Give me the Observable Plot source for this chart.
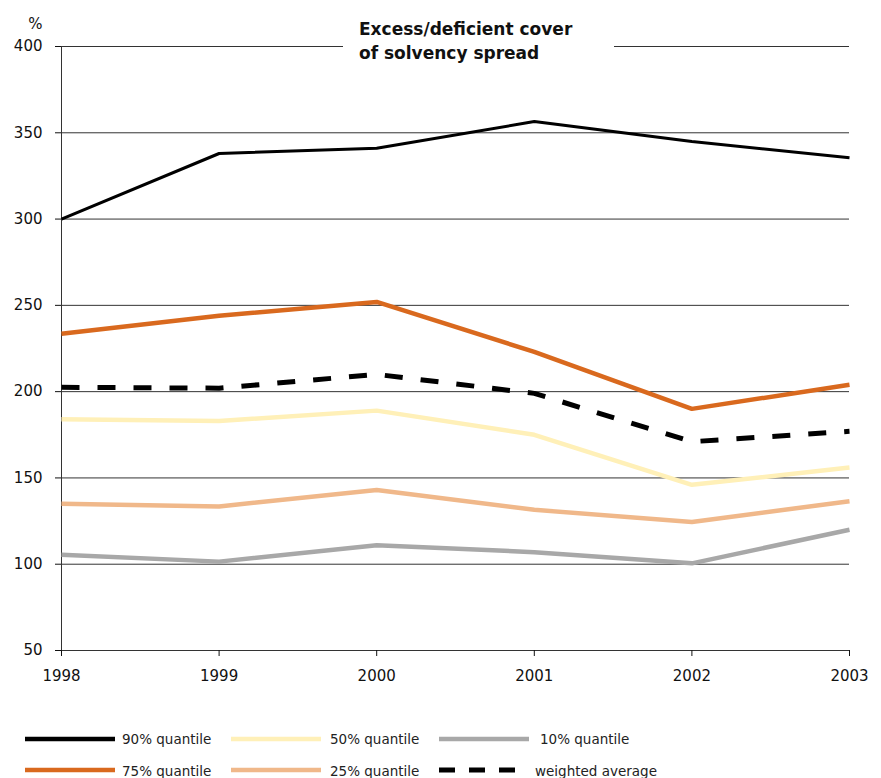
<!DOCTYPE html>
<html><head><meta charset="utf-8">
<script src="https://cdn.jsdelivr.net/npm/d3@7"></script>
<script src="https://cdn.jsdelivr.net/npm/@observablehq/plot@0.6"></script>
<style>
body{margin:0;background:#fff;font-family:"DejaVu Sans",Verdana,sans-serif;}
#wrap{position:relative;width:881px;height:778px;overflow:hidden;}
#title{position:absolute;left:343px;top:17px;width:255px;height:50px;padding-left:16px;background:#fff;font-weight:bold;font-size:17px;line-height:24px;color:#111;}
#legend{position:absolute;left:0;top:700px;}
</style></head><body>
<div id="wrap"><div id="chart"></div><div id="title">Excess/deficient cover<br>of solvency spread</div><div id="legend"></div></div>
<script>
const years = [1998, 1999, 2000, 2001, 2002, 2003];
const yTicks = [50, 100, 150, 200, 250, 300, 350, 400];
const q90 = [300, 338, 341, 356.5, 345, 335.5];
const q75 = [233.5, 244, 252, 223, 190, 204];
const q50 = [184, 183, 189, 175, 146, 156];
const q25 = [135, 133.5, 143, 131.5, 124.5, 136.5];
const q10 = [105.5, 101.5, 111, 107, 100.5, 120];
const wavg = [202.5, 202, 210, 199, 171, 177];
const seriesNames = ["90% quantile", "75% quantile", "50% quantile", "25% quantile", "10% quantile", "weighted average"];
const yUnit = "%";

const seriesValues = [q90, q75, q50, q25, q10, wavg];
const styles = {
  "90% quantile": {stroke: "#000", strokeWidth: 3},
  "75% quantile": {stroke: "#d9691e", strokeWidth: 4.5},
  "50% quantile": {stroke: "#fff0b8", strokeWidth: 4.5},
  "25% quantile": {stroke: "#f0b88a", strokeWidth: 4.5},
  "10% quantile": {stroke: "#a8a8a8", strokeWidth: 4.5},
  "weighted average": {stroke: "#000", strokeWidth: 5, strokeDasharray: "18,18"}
};
const table = name => years.map((y, i) => ({year: y, value: seriesValues[seriesNames.indexOf(name)][i]}));
const drawOrder = ["10% quantile", "25% quantile", "50% quantile", "weighted average", "75% quantile", "90% quantile"];
const font = "DejaVu Sans, Verdana, sans-serif";

const plot = Plot.plot({
  width: 881,
  height: 700,
  marginLeft: 61,
  marginRight: 32,
  marginTop: 46,
  marginBottom: 50,
  style: {fontFamily: font, fontSize: "15px", color: "#111", background: "#fff"},
  x: {domain: [1998, 2003]},
  y: {domain: [50, 400]},
  marks: [
    Plot.ruleY(yTicks, {stroke: "#333", strokeWidth: 1}),
    Plot.ruleX([1998], {stroke: "#333", strokeWidth: 1}),
    Plot.axisX({ticks: years, tickFormat: d => String(d), label: null, tickSize: 6, tickPadding: 14, fontSize: 15, fill: "#111"}),
    Plot.axisY({ticks: yTicks, label: null, tickSize: 6, tickPadding: 13, fontSize: 15, fill: "#111"}),
    ...drawOrder.map(n => Plot.line(table(n), {x: "year", y: "value", ...styles[n], strokeLinejoin: "miter", strokeLinecap: "butt"})),
    Plot.text([yUnit], {frameAnchor: "top-left", dx: -19, dy: -28, textAnchor: "end", fontSize: 15, fill: "#111"})
  ]
});
document.getElementById("chart").appendChild(plot);

// legend
const cols = [[0, 1], [2, 3], [4, 5]];
const lineX = [25, 231, 439];
const textX = [122, 330, 540];
const rowY = [39, 70];
const svg = d3.select("#legend").append("svg").attr("width", 881).attr("height", 78);
cols.forEach((c, ci) => c.forEach((si, ri) => {
  const n = seriesNames[si], s = styles[n];
  svg.append("line").attr("x1", lineX[ci]).attr("x2", lineX[ci] + (s.strokeDasharray ? 78 : 90))
    .attr("y1", rowY[ri]).attr("y2", rowY[ri])
    .attr("stroke", s.stroke).attr("stroke-width", s.strokeDasharray ? 5 : 4.5)
    .attr("stroke-dasharray", s.strokeDasharray ? "16,14" : null);
  svg.append("text").attr("x", s.strokeDasharray ? textX[ci] - 5 : textX[ci]).attr("y", rowY[ri] + (ri ? 6 : 5))
    .attr("font-family", font).attr("font-size", 13.5).attr("fill", "#222").text(n);
}));
</script>
</body></html>
